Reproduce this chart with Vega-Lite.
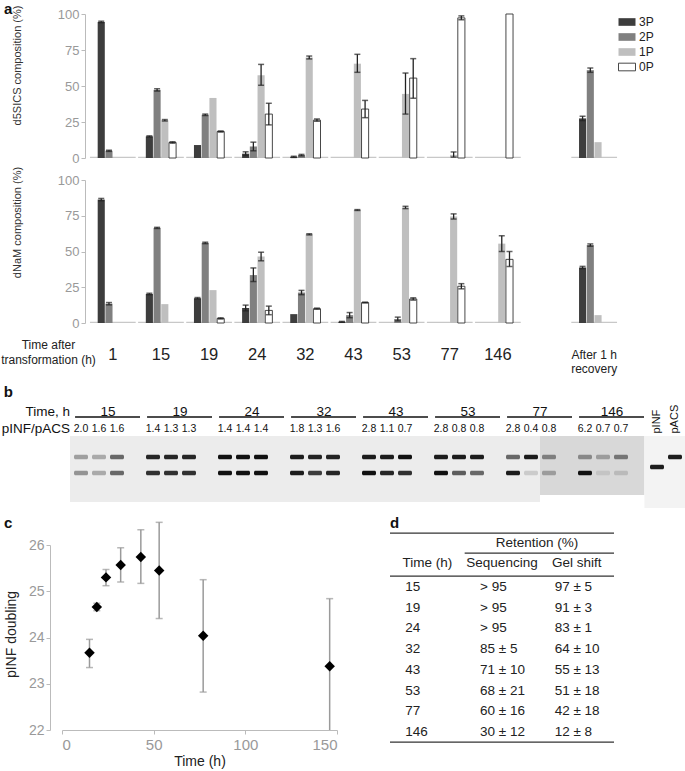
{
  "$schema": "https://vega.github.io/schema/vega-lite/v6.json",
  "padding": 0,
  "autosize": {"type": "pad"},
  "background": "white",
  "bounds": "flush",
  "spacing": 0,
  "resolve": {"scale": {"color": "independent", "opacity": "independent"}},
  "config": {
    "font": "Liberation Sans",
    "view": {"stroke": null},
    "title": {"fontSize": 15, "fontWeight": "bold", "anchor": "start", "offset": 0, "baseline": "top", "color": "#111"},
    "axis": {"grid": false}
  },
  "datasets": {
    "grp": [{"t": "1"}, {"t": "15"}, {"t": "19"}, {"t": "24"}, {"t": "32"}, {"t": "43"}, {"t": "53"}, {"t": "77"}, {"t": "146"}, {"t": "rec"}],
    "comp": [
      {"p": "d5", "t": "1", "k": "3P", "v": 94.5, "lo": 94, "hi": 95},
      {"p": "d5", "t": "1", "k": "2P", "v": 5, "lo": 4.6, "hi": 5.4},
      {"p": "d5", "t": "15", "k": "3P", "v": 15, "lo": 14.6, "hi": 15.4},
      {"p": "d5", "t": "15", "k": "2P", "v": 47.3, "lo": 46.5, "hi": 48.1},
      {"p": "d5", "t": "15", "k": "1P", "v": 26.2, "lo": 25.7, "hi": 26.7},
      {"p": "d5", "t": "15", "k": "0P", "v": 10.8, "lo": 10.3, "hi": 11.3},
      {"p": "d5", "t": "19", "k": "3P", "v": 9},
      {"p": "d5", "t": "19", "k": "2P", "v": 30, "lo": 29.5, "hi": 30.5},
      {"p": "d5", "t": "19", "k": "1P", "v": 41.7},
      {"p": "d5", "t": "19", "k": "0P", "v": 18.4, "lo": 18, "hi": 18.8},
      {"p": "d5", "t": "24", "k": "3P", "v": 3, "lo": 1.7, "hi": 4.3},
      {"p": "d5", "t": "24", "k": "2P", "v": 8, "lo": 5, "hi": 11},
      {"p": "d5", "t": "24", "k": "1P", "v": 57.5, "lo": 50.5, "hi": 65},
      {"p": "d5", "t": "24", "k": "0P", "v": 30.5, "lo": 23, "hi": 38},
      {"p": "d5", "t": "32", "k": "3P", "v": 0.8, "lo": 0.4, "hi": 1.2},
      {"p": "d5", "t": "32", "k": "2P", "v": 2, "lo": 1.5, "hi": 2.5},
      {"p": "d5", "t": "32", "k": "1P", "v": 69.8, "lo": 68.8, "hi": 70.8},
      {"p": "d5", "t": "32", "k": "0P", "v": 26.3, "lo": 25.5, "hi": 27.1},
      {"p": "d5", "t": "43", "k": "1P", "v": 65.5, "lo": 59.5, "hi": 72},
      {"p": "d5", "t": "43", "k": "0P", "v": 34, "lo": 28, "hi": 40},
      {"p": "d5", "t": "53", "k": "1P", "v": 44.5, "lo": 30.5, "hi": 59},
      {"p": "d5", "t": "53", "k": "0P", "v": 55.5, "lo": 41.5, "hi": 69},
      {"p": "d5", "t": "77", "k": "1P", "v": 2.2, "lo": 0.6, "hi": 4.2},
      {"p": "d5", "t": "77", "k": "0P", "v": 97.3, "lo": 96, "hi": 98.7},
      {"p": "d5", "t": "146", "k": "0P", "v": 100},
      {"p": "d5", "t": "rec", "k": "3P", "v": 27.5, "lo": 26, "hi": 29},
      {"p": "d5", "t": "rec", "k": "2P", "v": 61, "lo": 59.5, "hi": 62.5},
      {"p": "d5", "t": "rec", "k": "1P", "v": 11},
      {"p": "nm", "t": "1", "k": "3P", "v": 86.3, "lo": 85.5, "hi": 87.1},
      {"p": "nm", "t": "1", "k": "2P", "v": 13.5, "lo": 12.7, "hi": 14.3},
      {"p": "nm", "t": "15", "k": "3P", "v": 20.3, "lo": 19.8, "hi": 20.8},
      {"p": "nm", "t": "15", "k": "2P", "v": 66.5, "lo": 66.1, "hi": 66.9},
      {"p": "nm", "t": "15", "k": "1P", "v": 13.2},
      {"p": "nm", "t": "19", "k": "3P", "v": 17.3, "lo": 16.8, "hi": 17.8},
      {"p": "nm", "t": "19", "k": "2P", "v": 56, "lo": 55.5, "hi": 56.5},
      {"p": "nm", "t": "19", "k": "1P", "v": 23},
      {"p": "nm", "t": "19", "k": "0P", "v": 3.2, "lo": 2.8, "hi": 3.6},
      {"p": "nm", "t": "24", "k": "3P", "v": 10.5, "lo": 8.5, "hi": 12.5},
      {"p": "nm", "t": "24", "k": "2P", "v": 33.5, "lo": 29, "hi": 38.5},
      {"p": "nm", "t": "24", "k": "1P", "v": 46.5, "lo": 43.5, "hi": 49.5},
      {"p": "nm", "t": "24", "k": "0P", "v": 8.8, "lo": 5.8, "hi": 11.8},
      {"p": "nm", "t": "32", "k": "3P", "v": 6.2},
      {"p": "nm", "t": "32", "k": "2P", "v": 21.3, "lo": 19.8, "hi": 22.8},
      {"p": "nm", "t": "32", "k": "1P", "v": 62, "lo": 61.6, "hi": 62.4},
      {"p": "nm", "t": "32", "k": "0P", "v": 10, "lo": 9.6, "hi": 10.4},
      {"p": "nm", "t": "43", "k": "3P", "v": 0.8, "lo": 0.5, "hi": 1.1},
      {"p": "nm", "t": "43", "k": "2P", "v": 5.5, "lo": 3.7, "hi": 7.3},
      {"p": "nm", "t": "43", "k": "1P", "v": 79, "lo": 78.7, "hi": 79.3},
      {"p": "nm", "t": "43", "k": "0P", "v": 14.3, "lo": 14, "hi": 14.6},
      {"p": "nm", "t": "53", "k": "2P", "v": 2.8, "lo": 1.5, "hi": 4.1},
      {"p": "nm", "t": "53", "k": "1P", "v": 80.8, "lo": 80, "hi": 81.6},
      {"p": "nm", "t": "53", "k": "0P", "v": 16.8, "lo": 16, "hi": 17.6},
      {"p": "nm", "t": "77", "k": "1P", "v": 74.5, "lo": 72.7, "hi": 76.3},
      {"p": "nm", "t": "77", "k": "0P", "v": 25.7, "lo": 23.9, "hi": 27.5},
      {"p": "nm", "t": "146", "k": "1P", "v": 55.5, "lo": 50, "hi": 61},
      {"p": "nm", "t": "146", "k": "0P", "v": 44.5, "lo": 39.5, "hi": 50},
      {"p": "nm", "t": "rec", "k": "3P", "v": 38.8, "lo": 38, "hi": 39.6},
      {"p": "nm", "t": "rec", "k": "2P", "v": 54.5, "lo": 53.7, "hi": 55.3},
      {"p": "nm", "t": "rec", "k": "1P", "v": 5.5}
    ],
    "gel": [
      {"gel": "A", "from": 0.39, "to": 26.5, "top": 5.1, "bot": 11.7},
      {"gel": "B", "from": 26.5, "to": 32.3, "top": 5.1, "bot": 11.0},
      {"gel": "C", "from": 32.3, "to": 34.7, "top": 5.1, "bot": 12.3}
    ],
    "gelhdr": [
      {"time": "15", "from": 0.67, "to": 4.28, "mid": 2.5},
      {"time": "19", "from": 4.67, "to": 8.28, "mid": 6.5},
      {"time": "24", "from": 8.67, "to": 12.28, "mid": 10.5},
      {"time": "32", "from": 12.67, "to": 16.28, "mid": 14.5},
      {"time": "43", "from": 16.67, "to": 20.28, "mid": 18.5},
      {"time": "53", "from": 20.67, "to": 24.28, "mid": 22.5},
      {"time": "77", "from": 24.67, "to": 28.28, "mid": 26.5},
      {"time": "146", "from": 28.67, "to": 32.28, "mid": 30.5}
    ],
    "ratios": [
      {"lane": 1, "ratio": "2.0"}, {"lane": 2, "ratio": "1.6"}, {"lane": 3, "ratio": "1.6"},
      {"lane": 5, "ratio": "1.4"}, {"lane": 6, "ratio": "1.3"}, {"lane": 7, "ratio": "1.3"},
      {"lane": 9, "ratio": "1.4"}, {"lane": 10, "ratio": "1.4"}, {"lane": 11, "ratio": "1.4"},
      {"lane": 13, "ratio": "1.8"}, {"lane": 14, "ratio": "1.3"}, {"lane": 15, "ratio": "1.6"},
      {"lane": 17, "ratio": "2.8"}, {"lane": 18, "ratio": "1.1"}, {"lane": 19, "ratio": "0.7"},
      {"lane": 21, "ratio": "2.8"}, {"lane": 22, "ratio": "0.8"}, {"lane": 23, "ratio": "0.8"},
      {"lane": 25, "ratio": "2.8"}, {"lane": 26, "ratio": "0.4"}, {"lane": 27, "ratio": "0.8"},
      {"lane": 29, "ratio": "6.2"}, {"lane": 30, "ratio": "0.7"}, {"lane": 31, "ratio": "0.7"}
    ],
    "bands": [
      {"lane": 1, "mig": 7.2, "i": 0.35}, {"lane": 2, "mig": 7.2, "i": 0.3}, {"lane": 3, "mig": 7.2, "i": 0.6},
      {"lane": 1, "mig": 8.8, "i": 0.4}, {"lane": 2, "mig": 8.8, "i": 0.3}, {"lane": 3, "mig": 8.8, "i": 0.6},
      {"lane": 5, "mig": 7.2, "i": 0.9}, {"lane": 6, "mig": 7.2, "i": 0.9}, {"lane": 7, "mig": 7.2, "i": 0.9},
      {"lane": 5, "mig": 8.8, "i": 0.85}, {"lane": 6, "mig": 8.8, "i": 0.85}, {"lane": 7, "mig": 8.8, "i": 0.85},
      {"lane": 9, "mig": 7.2, "i": 1}, {"lane": 10, "mig": 7.2, "i": 1}, {"lane": 11, "mig": 7.2, "i": 1},
      {"lane": 9, "mig": 8.8, "i": 1}, {"lane": 10, "mig": 8.8, "i": 1}, {"lane": 11, "mig": 8.8, "i": 1},
      {"lane": 13, "mig": 7.2, "i": 0.95}, {"lane": 14, "mig": 7.2, "i": 0.92}, {"lane": 15, "mig": 7.2, "i": 0.92},
      {"lane": 13, "mig": 8.8, "i": 0.95}, {"lane": 14, "mig": 8.8, "i": 0.8}, {"lane": 15, "mig": 8.8, "i": 0.9},
      {"lane": 17, "mig": 7.2, "i": 0.95}, {"lane": 18, "mig": 7.2, "i": 0.95}, {"lane": 19, "mig": 7.2, "i": 1},
      {"lane": 17, "mig": 8.8, "i": 1}, {"lane": 18, "mig": 8.8, "i": 0.9}, {"lane": 19, "mig": 8.8, "i": 0.85},
      {"lane": 21, "mig": 7.2, "i": 0.95}, {"lane": 22, "mig": 7.2, "i": 0.95}, {"lane": 23, "mig": 7.2, "i": 0.95},
      {"lane": 21, "mig": 8.8, "i": 1}, {"lane": 22, "mig": 8.8, "i": 0.65}, {"lane": 23, "mig": 8.8, "i": 0.6},
      {"lane": 25, "mig": 7.2, "i": 0.6}, {"lane": 26, "mig": 7.2, "i": 0.95}, {"lane": 27, "mig": 7.2, "i": 0.45},
      {"lane": 25, "mig": 8.8, "i": 0.95}, {"lane": 26, "mig": 8.8, "i": 0.15}, {"lane": 27, "mig": 8.8, "i": 0.3},
      {"lane": 29, "mig": 7.2, "i": 0.4}, {"lane": 30, "mig": 7.2, "i": 0.3}, {"lane": 31, "mig": 7.2, "i": 0.5},
      {"lane": 29, "mig": 8.8, "i": 1}, {"lane": 30, "mig": 8.8, "i": 0.1}, {"lane": 31, "mig": 8.8, "i": 0.15},
      {"lane": 33, "mig": 8.2, "i": 0.95}, {"lane": 34, "mig": 7.2, "i": 0.95}
    ],
    "dbl": [
      {"h": 15, "d": 23.67, "lo": 23.35, "hi": 23.96},
      {"h": 19, "d": 24.66, "lo": 24.58, "hi": 24.74},
      {"h": 24, "d": 25.3, "lo": 25.12, "hi": 25.47},
      {"h": 32, "d": 25.57, "lo": 25.2, "hi": 25.94},
      {"h": 43, "d": 25.74, "lo": 25.17, "hi": 26.33},
      {"h": 53, "d": 25.45, "lo": 24.41, "hi": 26.49},
      {"h": 77, "d": 24.04, "lo": 22.82, "hi": 25.25},
      {"h": 146, "d": 23.38, "lo": 22.0, "hi": 24.84}
    ],
    "tbl": [
      {"r": 0, "time": "15", "seq": "> 95", "gel": "97 ± 5"},
      {"r": 1, "time": "19", "seq": "> 95", "gel": "91 ± 3"},
      {"r": 2, "time": "24", "seq": "> 95", "gel": "83 ± 1"},
      {"r": 3, "time": "32", "seq": "85 ± 5", "gel": "64 ± 10"},
      {"r": 4, "time": "43", "seq": "71 ± 10", "gel": "55 ± 13"},
      {"r": 5, "time": "53", "seq": "68 ± 21", "gel": "51 ± 18"},
      {"r": 6, "time": "77", "seq": "60 ± 16", "gel": "42 ± 18"},
      {"r": 7, "time": "146", "seq": "30 ± 12", "gel": "12 ± 8"}
    ],
    "trules": [
      {"at": -2.6, "from": 0, "to": 3},
      {"at": -1.64, "from": 1, "to": 3},
      {"at": -0.53, "from": 0, "to": 3},
      {"at": 7.49, "from": 0, "to": 3}
    ]
  },
  "vconcat": [
    {
      "width": 685, "height": 170,
      "title": {"text": "a", "dy": 21, "dx": 2},
      "encoding": {
        "x": {"field": "t", "type": "nominal", "scale": {"domain": ["1", "15", "19", "24", "32", "43", "53", "77", "146", "gap", "rec"], "range": [87, 616], "paddingInner": 0.05, "paddingOuter": 0.02}, "axis": null},
        "xOffset": {"field": "k", "type": "nominal", "scale": {"domain": ["3P", "2P", "1P", "0P"], "paddingInner": 0.08, "paddingOuter": 1.0}}
      },
      "layer": [
        {"data": {"name": "grp"}, "mark": {"type": "bar", "color": "#c8c8c8"},
         "encoding": {"xOffset": null,
           "y": {"datum": 0, "type": "quantitative", "scale": {"domain": [0, 100], "range": [158, 14], "nice": false},
                 "axis": {"values": [0, 25, 50, 75, 100], "offset": -83, "title": "d5SICS composition (%)", "domainColor": "#bbb", "tickColor": "#bbb", "tickSize": 4, "labelColor": "#999", "labelFontSize": 13, "labelPadding": 2, "titleFontSize": 11, "titleFontWeight": "normal", "titleColor": "#333", "titleX": -68, "titleY": 65, "titleBaseline": "middle", "titleAngle": 270}},
           "y2": {"datum": 0.8}}},
        {"data": {"name": "comp"}, "transform": [{"filter": "datum.p==='d5'"}], "mark": {"type": "bar"},
         "encoding": {
           "y": {"field": "v", "type": "quantitative", "scale": {"domain": [0, 100], "range": [158, 14], "nice": false},
                 "axis": {"values": [0, 25, 50, 75, 100], "offset": -83, "title": "d5SICS composition (%)", "domainColor": "#bbb", "tickColor": "#bbb", "tickSize": 4, "labelColor": "#999", "labelFontSize": 13, "labelPadding": 2, "titleFontSize": 11, "titleFontWeight": "normal", "titleColor": "#333", "titleX": -68, "titleY": 65, "titleBaseline": "middle", "titleAngle": 270}},
           "color": {"field": "k", "type": "nominal", "scale": {"domain": ["3P", "2P", "1P", "0P"], "range": ["#3d3d3d", "#808080", "#bfbfbf", "#ffffff"]},
                     "legend": {"orient": "none", "legendX": 616, "legendY": 13, "title": null, "symbolType": "M-1,-0.45L1,-0.45L1,0.45L-1,0.45Z", "symbolSize": 289, "labelFontSize": 12, "labelColor": "#222", "rowPadding": 0, "labelOffset": 3, "padding": 0,
                                "encode": {"symbols": {"update": {"stroke": [{"test": "datum.value==='0P'", "value": "#333"}, {"value": "transparent"}], "strokeWidth": {"value": 0.9}}}}}}
         }},
        {"data": {"name": "comp"}, "transform": [{"filter": "datum.p==='d5' && datum.k==='0P'"}], "mark": {"type": "bar", "fill": "transparent", "stroke": "#333", "strokeWidth": 0.9},
         "encoding": {
           "y": {"field": "v", "type": "quantitative", "scale": {"domain": [0, 100], "range": [158, 14], "nice": false},
                 "axis": {"values": [0, 25, 50, 75, 100], "offset": -83, "title": "d5SICS composition (%)", "domainColor": "#bbb", "tickColor": "#bbb", "tickSize": 4, "labelColor": "#999", "labelFontSize": 13, "labelPadding": 2, "titleFontSize": 11, "titleFontWeight": "normal", "titleColor": "#333", "titleX": -68, "titleY": 65, "titleBaseline": "middle", "titleAngle": 270}}}},
        {"data": {"name": "comp"}, "transform": [{"filter": "datum.p==='d5' && isValid(datum.lo)"}], "mark": {"type": "rule", "color": "#222", "strokeWidth": 1.3},
         "encoding": {
           "y": {"field": "lo", "type": "quantitative", "scale": {"domain": [0, 100], "range": [158, 14], "nice": false},
                 "axis": {"values": [0, 25, 50, 75, 100], "offset": -83, "title": "d5SICS composition (%)", "domainColor": "#bbb", "tickColor": "#bbb", "tickSize": 4, "labelColor": "#999", "labelFontSize": 13, "labelPadding": 2, "titleFontSize": 11, "titleFontWeight": "normal", "titleColor": "#333", "titleX": -68, "titleY": 65, "titleBaseline": "middle", "titleAngle": 270}},
           "y2": {"field": "hi"}}},
        {"data": {"name": "comp"}, "transform": [{"filter": "datum.p==='d5' && isValid(datum.lo)"}], "mark": {"type": "tick", "color": "#222", "thickness": 1.5},
         "encoding": {
           "y": {"field": "lo", "type": "quantitative", "scale": {"domain": [0, 100], "range": [158, 14], "nice": false},
                 "axis": {"values": [0, 25, 50, 75, 100], "offset": -83, "title": "d5SICS composition (%)", "domainColor": "#bbb", "tickColor": "#bbb", "tickSize": 4, "labelColor": "#999", "labelFontSize": 13, "labelPadding": 2, "titleFontSize": 11, "titleFontWeight": "normal", "titleColor": "#333", "titleX": -68, "titleY": 65, "titleBaseline": "middle", "titleAngle": 270}},
           "size": {"value": 6}}},
        {"data": {"name": "comp"}, "transform": [{"filter": "datum.p==='d5' && isValid(datum.lo)"}], "mark": {"type": "tick", "color": "#222", "thickness": 1.5},
         "encoding": {
           "y": {"field": "hi", "type": "quantitative", "scale": {"domain": [0, 100], "range": [158, 14], "nice": false},
                 "axis": {"values": [0, 25, 50, 75, 100], "offset": -83, "title": "d5SICS composition (%)", "domainColor": "#bbb", "tickColor": "#bbb", "tickSize": 4, "labelColor": "#999", "labelFontSize": 13, "labelPadding": 2, "titleFontSize": 11, "titleFontWeight": "normal", "titleColor": "#333", "titleX": -68, "titleY": 65, "titleBaseline": "middle", "titleAngle": 270}},
           "size": {"value": 6}}}
      ]
    },
    {
      "width": 685, "height": 215,
      "encoding": {
        "x": {"field": "t", "type": "nominal", "scale": {"domain": ["1", "15", "19", "24", "32", "43", "53", "77", "146", "gap", "rec"], "range": [87, 616], "paddingInner": 0.05, "paddingOuter": 0.02},
              "axis": {"title": ["Time after", "transformation (h)"], "offset": -62, "domain": false, "ticks": false, "labelAngle": 0,
                       "labelExpr": "datum.value==='rec' ? ['After 1 h','recovery'] : (datum.value==='gap' ? '' : datum.value)",
                       "labelFontSize": {"condition": {"test": "datum.value==='rec'", "value": 12}, "value": 16.5},
                       "labelColor": "#222", "labelPadding": 31, "labelBaseline": "middle", "labelLineHeight": 14, "labelOverlap": false,
                       "titleX": 46, "titleY": 16, "titleAlign": "center", "titleBaseline": "top", "titleFontSize": 12, "titleFontWeight": "normal", "titleColor": "#222", "titleLineHeight": 15}},
        "xOffset": {"field": "k", "type": "nominal", "scale": {"domain": ["3P", "2P", "1P", "0P"], "paddingInner": 0.08, "paddingOuter": 1.0}}
      },
      "layer": [
        {"data": {"name": "grp"}, "mark": {"type": "bar", "color": "#c8c8c8"},
         "encoding": {"xOffset": null,
           "y": {"datum": 0, "type": "quantitative", "scale": {"domain": [0, 100], "range": [153, 10], "nice": false},
                 "axis": {"values": [0, 25, 50, 75, 100], "offset": -83, "title": "dNaM composition (%)", "domainColor": "#bbb", "tickColor": "#bbb", "tickSize": 4, "labelColor": "#999", "labelFontSize": 13, "labelPadding": 2, "titleFontSize": 11, "titleFontWeight": "normal", "titleColor": "#333", "titleX": -68, "titleY": 52, "titleBaseline": "middle", "titleAngle": 270}},
           "y2": {"datum": 0.8}}},
        {"data": {"name": "comp"}, "transform": [{"filter": "datum.p==='nm'"}], "mark": {"type": "bar"},
         "encoding": {
           "y": {"field": "v", "type": "quantitative", "scale": {"domain": [0, 100], "range": [153, 10], "nice": false},
                 "axis": {"values": [0, 25, 50, 75, 100], "offset": -83, "title": "dNaM composition (%)", "domainColor": "#bbb", "tickColor": "#bbb", "tickSize": 4, "labelColor": "#999", "labelFontSize": 13, "labelPadding": 2, "titleFontSize": 11, "titleFontWeight": "normal", "titleColor": "#333", "titleX": -68, "titleY": 52, "titleBaseline": "middle", "titleAngle": 270}},
           "color": {"field": "k", "type": "nominal", "scale": {"domain": ["3P", "2P", "1P", "0P"], "range": ["#3d3d3d", "#808080", "#bfbfbf", "#ffffff"]}, "legend": null}
         }},
        {"data": {"name": "comp"}, "transform": [{"filter": "datum.p==='nm' && datum.k==='0P'"}], "mark": {"type": "bar", "fill": "transparent", "stroke": "#333", "strokeWidth": 0.9},
         "encoding": {
           "y": {"field": "v", "type": "quantitative", "scale": {"domain": [0, 100], "range": [153, 10], "nice": false},
                 "axis": {"values": [0, 25, 50, 75, 100], "offset": -83, "title": "dNaM composition (%)", "domainColor": "#bbb", "tickColor": "#bbb", "tickSize": 4, "labelColor": "#999", "labelFontSize": 13, "labelPadding": 2, "titleFontSize": 11, "titleFontWeight": "normal", "titleColor": "#333", "titleX": -68, "titleY": 52, "titleBaseline": "middle", "titleAngle": 270}}}},
        {"data": {"name": "comp"}, "transform": [{"filter": "datum.p==='nm' && isValid(datum.lo)"}], "mark": {"type": "rule", "color": "#222", "strokeWidth": 1.3},
         "encoding": {
           "y": {"field": "lo", "type": "quantitative", "scale": {"domain": [0, 100], "range": [153, 10], "nice": false},
                 "axis": {"values": [0, 25, 50, 75, 100], "offset": -83, "title": "dNaM composition (%)", "domainColor": "#bbb", "tickColor": "#bbb", "tickSize": 4, "labelColor": "#999", "labelFontSize": 13, "labelPadding": 2, "titleFontSize": 11, "titleFontWeight": "normal", "titleColor": "#333", "titleX": -68, "titleY": 52, "titleBaseline": "middle", "titleAngle": 270}},
           "y2": {"field": "hi"}}},
        {"data": {"name": "comp"}, "transform": [{"filter": "datum.p==='nm' && isValid(datum.lo)"}], "mark": {"type": "tick", "color": "#222", "thickness": 1.5},
         "encoding": {
           "y": {"field": "lo", "type": "quantitative", "scale": {"domain": [0, 100], "range": [153, 10], "nice": false},
                 "axis": {"values": [0, 25, 50, 75, 100], "offset": -83, "title": "dNaM composition (%)", "domainColor": "#bbb", "tickColor": "#bbb", "tickSize": 4, "labelColor": "#999", "labelFontSize": 13, "labelPadding": 2, "titleFontSize": 11, "titleFontWeight": "normal", "titleColor": "#333", "titleX": -68, "titleY": 52, "titleBaseline": "middle", "titleAngle": 270}},
           "size": {"value": 6}}},
        {"data": {"name": "comp"}, "transform": [{"filter": "datum.p==='nm' && isValid(datum.lo)"}], "mark": {"type": "tick", "color": "#222", "thickness": 1.5},
         "encoding": {
           "y": {"field": "hi", "type": "quantitative", "scale": {"domain": [0, 100], "range": [153, 10], "nice": false},
                 "axis": {"values": [0, 25, 50, 75, 100], "offset": -83, "title": "dNaM composition (%)", "domainColor": "#bbb", "tickColor": "#bbb", "tickSize": 4, "labelColor": "#999", "labelFontSize": 13, "labelPadding": 2, "titleFontSize": 11, "titleFontWeight": "normal", "titleColor": "#333", "titleX": -68, "titleY": 52, "titleBaseline": "middle", "titleAngle": 270}},
           "size": {"value": 6}}}
      ]
    },
    {
      "width": 685, "height": 130,
      "title": {"text": "b", "dy": 19, "dx": 2},
      "layer": [
        {"data": {"name": "gel"}, "mark": {"type": "rect"},
         "encoding": {
           "x": {"field": "from", "type": "quantitative", "scale": {"domain": [0, 34], "range": [61, 673], "nice": false, "zero": false}, "axis": null},
           "x2": {"field": "to"},
           "y": {"field": "top", "type": "quantitative", "scale": {"domain": [0, 13], "range": [0, 130], "nice": false, "zero": false}, "axis": null},
           "y2": {"field": "bot"},
           "color": {"field": "gel", "type": "nominal", "scale": {"domain": ["A", "B", "C"], "range": ["#ececec", "#d8d8d8", "#f3f3f3"]}, "legend": null}}},
        {"data": {"name": "gelhdr"}, "mark": {"type": "rule", "color": "#111", "strokeWidth": 1.5},
         "encoding": {
           "x": {"field": "from", "type": "quantitative", "scale": {"domain": [0, 34], "range": [61, 673], "nice": false, "zero": false}, "axis": null},
           "x2": {"field": "to"},
           "y": {"datum": 3.2, "type": "quantitative", "scale": {"domain": [0, 13], "range": [0, 130], "nice": false, "zero": false}, "axis": null}}},
        {"data": {"name": "gelhdr"}, "mark": {"type": "text", "fontSize": 13.5, "baseline": "middle", "color": "#111"},
         "encoding": {
           "x": {"field": "mid", "type": "quantitative", "scale": {"domain": [0, 34], "range": [61, 673], "nice": false, "zero": false}, "axis": null},
           "y": {"datum": 2.7, "type": "quantitative", "scale": {"domain": [0, 13], "range": [0, 130], "nice": false, "zero": false}, "axis": null},
           "text": {"field": "time"}}},
        {"data": {"name": "ratios"}, "mark": {"type": "text", "fontSize": 10.5, "baseline": "middle", "color": "#111"},
         "encoding": {
           "x": {"field": "lane", "type": "quantitative", "scale": {"domain": [0, 34], "range": [61, 673], "nice": false, "zero": false}, "axis": null},
           "y": {"datum": 4.4, "type": "quantitative", "scale": {"domain": [0, 13], "range": [0, 130], "nice": false, "zero": false}, "axis": null},
           "text": {"field": "ratio"}}},
        {"data": {"values": [{}]}, "mark": {"type": "text", "text": "Time, h", "fontSize": 13.5, "baseline": "middle", "align": "right", "color": "#111"},
         "encoding": {
           "x": {"datum": 0.39, "type": "quantitative", "scale": {"domain": [0, 34], "range": [61, 673], "nice": false, "zero": false}, "axis": null},
           "y": {"datum": 2.7, "type": "quantitative", "scale": {"domain": [0, 13], "range": [0, 130], "nice": false, "zero": false}, "axis": null}}},
        {"data": {"values": [{}]}, "mark": {"type": "text", "text": "pINF/pACS", "fontSize": 13.5, "baseline": "middle", "align": "right", "color": "#111"},
         "encoding": {
           "x": {"datum": 0.39, "type": "quantitative", "scale": {"domain": [0, 34], "range": [61, 673], "nice": false, "zero": false}, "axis": null},
           "y": {"datum": 4.4, "type": "quantitative", "scale": {"domain": [0, 13], "range": [0, 130], "nice": false, "zero": false}, "axis": null}}},
        {"data": {"values": [{"lane": 33, "lab": "pINF"}, {"lane": 34, "lab": "pACS"}]}, "mark": {"type": "text", "fontSize": 11, "baseline": "middle", "align": "left", "angle": 270, "color": "#111"},
         "encoding": {
           "x": {"field": "lane", "type": "quantitative", "scale": {"domain": [0, 34], "range": [61, 673], "nice": false, "zero": false}, "axis": null},
           "y": {"datum": 4.85, "type": "quantitative", "scale": {"domain": [0, 13], "range": [0, 130], "nice": false, "zero": false}, "axis": null},
           "text": {"field": "lab"}}},
        {"data": {"name": "bands"}, "mark": {"type": "tick", "orient": "horizontal", "thickness": 4.5, "color": "#111", "cornerRadius": 1.5},
         "encoding": {
           "x": {"field": "lane", "type": "quantitative", "scale": {"domain": [0, 34], "range": [61, 673], "nice": false, "zero": false}, "axis": null},
           "y": {"field": "mig", "type": "quantitative", "scale": {"domain": [0, 13], "range": [0, 130], "nice": false, "zero": false}, "axis": null},
           "opacity": {"field": "i", "type": "quantitative", "scale": {"domain": [0, 1], "range": [0, 1]}, "legend": null},
           "size": {"value": 14}}}
      ]
    },
    {
      "width": 685, "height": 256,
      "title": {"text": "c", "dy": 20, "dx": 2},
      "resolve": {"scale": {"x": "independent", "y": "independent"}, "axis": {"x": "independent", "y": "independent"}},
      "layer": [
        {
          "data": {"name": "dbl"},
          "encoding": {
            "x": {"field": "h", "type": "quantitative", "scale": {"domain": [0, 150], "range": [60, 335], "nice": false, "zero": false},
                  "axis": {"values": [0, 50, 100, 150], "offset": -41, "title": "Time (h)", "domainColor": "#bbb", "tickColor": "#bbb", "tickSize": 4, "labelColor": "#999", "labelFontSize": 15, "labelPadding": 3, "titleFontSize": 14, "titleFontWeight": "normal", "titleColor": "#222", "titlePadding": 2}},
            "y": {"field": "d", "type": "quantitative", "scale": {"domain": [22, 26], "range": [215, 30], "nice": false, "zero": false},
                  "axis": {"values": [22, 23, 24, 25, 26], "offset": -48, "title": "pINF doubling", "domainColor": "#bbb", "tickColor": "#bbb", "tickSize": 4, "labelColor": "#999", "labelFontSize": 14, "labelPadding": 2, "titleFontSize": 14, "titleFontWeight": "normal", "titleColor": "#222", "titleX": -39, "titleY": 119, "titleBaseline": "middle", "titleAngle": 270}}
          },
          "layer": [
            {"mark": {"type": "rule", "color": "#9a9a9a", "strokeWidth": 1.5},
             "encoding": {"y": {"field": "lo", "type": "quantitative", "scale": {"domain": [22, 26], "range": [215, 30], "nice": false, "zero": false},
                                "axis": {"values": [22, 23, 24, 25, 26], "offset": -48, "title": "pINF doubling", "domainColor": "#bbb", "tickColor": "#bbb", "tickSize": 4, "labelColor": "#999", "labelFontSize": 14, "labelPadding": 2, "titleFontSize": 14, "titleFontWeight": "normal", "titleColor": "#222", "titleX": -39, "titleY": 119, "titleBaseline": "middle", "titleAngle": 270}},
                          "y2": {"field": "hi"}}},
            {"mark": {"type": "tick", "orient": "horizontal", "color": "#9a9a9a", "thickness": 1.5},
             "encoding": {"y": {"field": "hi", "type": "quantitative", "scale": {"domain": [22, 26], "range": [215, 30], "nice": false, "zero": false},
                                "axis": {"values": [22, 23, 24, 25, 26], "offset": -48, "title": "pINF doubling", "domainColor": "#bbb", "tickColor": "#bbb", "tickSize": 4, "labelColor": "#999", "labelFontSize": 14, "labelPadding": 2, "titleFontSize": 14, "titleFontWeight": "normal", "titleColor": "#222", "titleX": -39, "titleY": 119, "titleBaseline": "middle", "titleAngle": 270}},
                          "size": {"value": 7}}},
            {"transform": [{"filter": "datum.h !== 146"}], "mark": {"type": "tick", "orient": "horizontal", "color": "#9a9a9a", "thickness": 1.5},
             "encoding": {"y": {"field": "lo", "type": "quantitative", "scale": {"domain": [22, 26], "range": [215, 30], "nice": false, "zero": false},
                                "axis": {"values": [22, 23, 24, 25, 26], "offset": -48, "title": "pINF doubling", "domainColor": "#bbb", "tickColor": "#bbb", "tickSize": 4, "labelColor": "#999", "labelFontSize": 14, "labelPadding": 2, "titleFontSize": 14, "titleFontWeight": "normal", "titleColor": "#222", "titleX": -39, "titleY": 119, "titleBaseline": "middle", "titleAngle": 270}},
                          "size": {"value": 7}}},
            {"mark": {"type": "point", "shape": "diamond", "filled": true, "color": "#000", "size": 110, "opacity": 1}}
          ]
        },
        {
          "layer": [
            {"data": {"values": [{"col": "time", "lab": "Time (h)"}, {"col": "seq", "lab": "Sequencing"}, {"col": "gel", "lab": "Gel shift"}]},
             "mark": {"type": "text", "fontSize": 13.5, "baseline": "middle", "align": "center", "color": "#222"},
             "encoding": {
               "x": {"field": "col", "type": "nominal", "scale": {"domain": ["time", "seq", "gel"], "range": [388, 612], "paddingInner": 0, "paddingOuter": 0}, "axis": null},
               "y": {"datum": -1.16, "type": "quantitative", "scale": {"domain": [-3, 8], "range": [9.9, 237.6], "nice": false, "zero": false}, "axis": null},
               "text": {"field": "lab"}}},
            {"data": {"values": [{}]},
             "mark": {"type": "text", "text": "Retention (%)", "fontSize": 13.5, "baseline": "middle", "align": "center", "dx": 35, "color": "#222"},
             "encoding": {
               "x": {"datum": "seq", "type": "nominal", "scale": {"domain": ["time", "seq", "gel"], "range": [388, 612], "paddingInner": 0, "paddingOuter": 0}, "axis": null},
               "y": {"datum": -2.13, "type": "quantitative", "scale": {"domain": [-3, 8], "range": [9.9, 237.6], "nice": false, "zero": false}, "axis": null}}},
            {"data": {"name": "tbl"}, "transform": [{"fold": ["time", "seq", "gel"], "as": ["key", "val"]}],
             "mark": {"type": "text", "fontSize": 13.5, "baseline": "middle", "align": "left", "dx": -22, "color": "#222"},
             "encoding": {
               "x": {"field": "key", "type": "nominal", "scale": {"domain": ["time", "seq", "gel"], "range": [388, 612], "paddingInner": 0, "paddingOuter": 0}, "axis": null},
               "y": {"field": "r", "type": "quantitative", "scale": {"domain": [-3, 8], "range": [9.9, 237.6], "nice": false, "zero": false}, "axis": null},
               "text": {"field": "val"}}}
          ]
        },
        {
          "layer": [
            {"data": {"name": "trules"}, "mark": {"type": "rule", "color": "#333", "strokeWidth": 1.3},
             "encoding": {
               "x": {"field": "from", "type": "quantitative", "scale": {"domain": [0, 3], "range": [388, 612], "nice": false, "zero": false}, "axis": null},
               "x2": {"field": "to"},
               "y": {"field": "at", "type": "quantitative", "scale": {"domain": [-3, 8], "range": [9.9, 237.6], "nice": false, "zero": false}, "axis": null}}},
            {"data": {"values": [{}]}, "mark": {"type": "text", "text": "d", "fontSize": 15, "fontWeight": "bold", "align": "left", "baseline": "middle", "color": "#111"},
             "encoding": {
               "x": {"datum": 0, "type": "quantitative", "scale": {"domain": [0, 3], "range": [388, 612], "nice": false, "zero": false}, "axis": null},
               "y": {"datum": -3.09, "type": "quantitative", "scale": {"domain": [-3, 8], "range": [9.9, 237.6], "nice": false, "zero": false}, "axis": null}}}
          ]
        }
      ]
    }
  ]
}
